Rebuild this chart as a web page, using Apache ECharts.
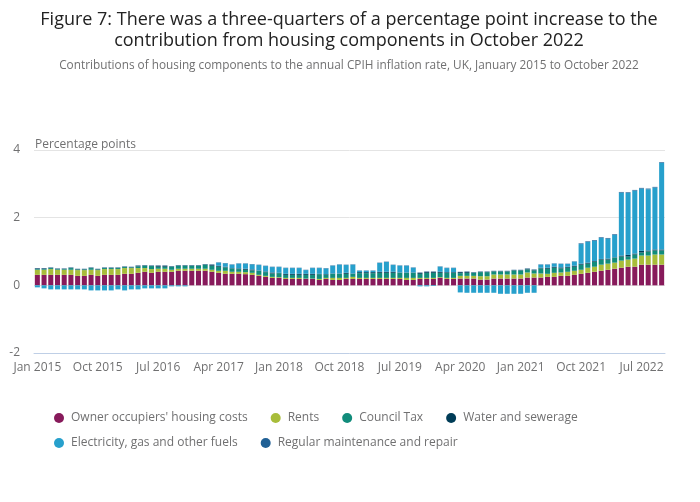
<!DOCTYPE html>
<html>
<head>
<meta charset="utf-8">
<script src="https://cdn.jsdelivr.net/npm/echarts@6/dist/echarts.min.js"></script>
<style>html,body{margin:0;padding:0;background:#fff}#c{width:700px;height:502px}</style>
</head>
<body>
<div id="c"></div>
<script>
const categories = [
'Jan 2015','Feb 2015','Mar 2015','Apr 2015','May 2015','Jun 2015','Jul 2015','Aug 2015','Sep 2015','Oct 2015','Nov 2015','Dec 2015',
'Jan 2016','Feb 2016','Mar 2016','Apr 2016','May 2016','Jun 2016','Jul 2016','Aug 2016','Sep 2016','Oct 2016','Nov 2016','Dec 2016',
'Jan 2017','Feb 2017','Mar 2017','Apr 2017','May 2017','Jun 2017','Jul 2017','Aug 2017','Sep 2017','Oct 2017','Nov 2017','Dec 2017',
'Jan 2018','Feb 2018','Mar 2018','Apr 2018','May 2018','Jun 2018','Jul 2018','Aug 2018','Sep 2018','Oct 2018','Nov 2018','Dec 2018',
'Jan 2019','Feb 2019','Mar 2019','Apr 2019','May 2019','Jun 2019','Jul 2019','Aug 2019','Sep 2019','Oct 2019','Nov 2019','Dec 2019',
'Jan 2020','Feb 2020','Mar 2020','Apr 2020','May 2020','Jun 2020','Jul 2020','Aug 2020','Sep 2020','Oct 2020','Nov 2020','Dec 2020',
'Jan 2021','Feb 2021','Mar 2021','Apr 2021','May 2021','Jun 2021','Jul 2021','Aug 2021','Sep 2021','Oct 2021','Nov 2021','Dec 2021',
'Jan 2022','Feb 2022','Mar 2022','Apr 2022','May 2022','Jun 2022','Jul 2022','Aug 2022','Sep 2022','Oct 2022'];

const ownerOccupiers = [
0.31,0.31,0.31,0.31,0.31,0.31,0.28,0.28,0.31,0.28,0.31,0.31,
0.31,0.34,0.34,0.37,0.40,0.37,0.40,0.40,0.40,0.43,0.43,0.43,
0.43,0.43,0.40,0.37,0.34,0.34,0.34,0.33,0.31,0.28,0.25,0.22,
0.22,0.19,0.19,0.19,0.19,0.19,0.16,0.19,0.16,0.16,0.19,0.19,
0.19,0.19,0.19,0.19,0.19,0.19,0.19,0.16,0.16,0.19,0.19,0.19,
0.22,0.19,0.19,0.20,0.20,0.20,0.17,0.17,0.20,0.20,0.20,0.20,
0.20,0.23,0.23,0.23,0.25,0.25,0.28,0.28,0.31,0.34,0.37,0.40,
0.43,0.46,0.49,0.52,0.55,0.55,0.61,0.61,0.61,0.61];

const rents = [
0.15,0.15,0.17,0.15,0.15,0.15,0.17,0.17,0.15,0.17,0.17,0.17,
0.17,0.17,0.17,0.14,0.11,0.11,0.09,0.09,0.06,0.06,0.06,0.06,
0.06,0.06,0.06,0.06,0.09,0.06,0.06,0.06,0.06,0.03,0.03,0.03,
0.02,0.03,0.03,0.03,0.01,0.01,0.03,0.03,0.06,0.06,0.03,0.06,
0.03,0.03,0.03,0.03,0.03,0.03,0.03,0.06,0.06,0.03,0.03,0.03,
0.02,0.03,0.03,0.08,0.08,0.08,0.10,0.10,0.12,0.12,0.12,0.12,
0.12,0.15,0.12,0.12,0.09,0.12,0.10,0.12,0.12,0.12,0.15,0.15,
0.18,0.18,0.18,0.21,0.21,0.24,0.27,0.27,0.30,0.30];

const councilTax = [
0.02,0.02,0.03,0.02,0.02,0.05,0.02,0.02,0.05,0.02,0.03,0.03,
0.03,0.03,0.02,0.05,0.07,0.09,0.06,0.06,0.09,0.09,0.09,0.09,
0.09,0.12,0.12,0.12,0.10,0.10,0.08,0.07,0.07,0.12,0.11,0.10,
0.12,0.09,0.09,0.09,0.11,0.11,0.14,0.09,0.12,0.12,0.12,0.09,
0.14,0.14,0.14,0.15,0.15,0.15,0.15,0.15,0.15,0.12,0.15,0.15,
0.13,0.15,0.15,0.08,0.09,0.09,0.12,0.12,0.09,0.09,0.09,0.12,
0.12,0.09,0.09,0.15,0.15,0.15,0.12,0.12,0.12,0.15,0.12,0.15,
0.15,0.12,0.15,0.12,0.09,0.12,0.09,0.12,0.12,0.12];

const waterSewerage = [
0.02,0.02,0.01,0.01,0.01,0.01,0.01,0.01,0.01,0.01,0.01,0.01,
0.01,0.01,0.01,0.02,0.01,0.01,0.03,0.03,0.01,0.01,0.01,0.01,
0.01,0.01,0.03,0.03,0.02,0.01,0.02,0.03,0.03,0.01,0.02,0.03,
0.01,0.03,0.03,0.03,0.03,0.03,0.01,0.02,0.01,0.01,0.03,0.01,
0.03,0.03,0.03,0.03,0.03,0.03,0.01,0.01,0.01,0.03,0.03,0.03,
0.03,0.02,0.02,0.03,0.03,0.01,0.01,0.01,0.01,0.01,0.01,0.01,
0.01,0.02,0.02,0.02,0.03,0.03,0.03,0.03,0.03,0.03,0.03,0.02,
0.02,0.03,0.01,0.03,0.05,0.03,0.05,0.03,0.03,0.03];

const electricityGas = [
-0.06,-0.09,-0.12,-0.12,-0.12,-0.12,-0.12,-0.12,-0.15,-0.15,-0.15,-0.15,
-0.12,-0.15,-0.12,-0.12,-0.09,-0.09,-0.09,-0.09,-0.03,-0.03,-0.03,0.00,
0.00,0.00,0.00,0.09,0.10,0.10,0.14,0.15,0.15,0.16,0.16,0.16,
0.17,0.17,0.17,0.17,0.11,0.17,0.17,0.17,0.23,0.26,0.23,0.26,
0.04,0.04,0.04,0.26,0.29,0.20,0.20,0.20,0.14,-0.03,-0.03,-0.02,
0.15,0.12,0.12,-0.21,-0.22,-0.22,-0.22,-0.22,-0.22,-0.25,-0.25,-0.25,
-0.25,-0.22,-0.22,0.09,0.09,0.09,0.10,0.08,0.12,0.58,0.61,0.60,
0.62,0.59,0.66,1.86,1.83,1.86,1.84,1.81,1.83,2.56];

const maintenance = [
0.01,0.01,0.01,0.01,0.01,0.01,0.01,0.01,0.01,0.01,0.01,0.01,
0.01,0.01,0.01,0.01,0.01,0.01,0.01,0.01,0.01,0.01,0.01,0.01,
0.01,0.01,0.01,0.01,0.01,0.01,0.01,0.01,0.01,0.01,0.01,0.01,
0.01,0.01,0.01,0.01,0.01,0.01,0.01,0.01,0.01,0.01,0.01,0.01,
0.01,0.01,0.01,0.01,0.01,0.01,0.01,0.01,0.01,0.01,0.01,0.01,
0.01,0.01,0.01,0.01,0.01,0.01,0.01,0.01,0.01,0.01,0.01,0.01,
0.01,0.01,0.01,0.01,0.01,0.01,0.01,0.01,0.01,0.02,0.02,0.02,
0.02,0.02,0.02,0.02,0.02,0.02,0.02,0.02,0.02,0.02];

const seriesNames = ["Owner occupiers' housing costs","Rents","Council Tax","Water and sewerage","Electricity, gas and other fuels","Regular maintenance and repair"];
const seriesData = [ownerOccupiers, rents, councilTax, waterSewerage, electricityGas, maintenance];
const colors = ['#871a5b','#a8bd3a','#118c7b','#003c57','#27a0cc','#206095'];

const FONT = 'Open Sans';
const legendBase = {icon: 'circle', itemWidth: 14, itemHeight: 10, itemGap: 23, symbolKeepAspect: true,
  textStyle:{fontFamily: FONT, fontSize: 12, color:'#707071'}};
const chart = echarts.init(document.getElementById('c'), null, {renderer:'canvas'});
chart.setOption({
  animation: false,
  color: colors,
  textStyle: {fontFamily: FONT},
  title: [
    {text: 'Figure 7: There was a three-quarters of a percentage point increase to the\ncontribution from housing components in October 2022',
     left: 344, top: 4, textAlign: 'center',
     textStyle: {fontFamily: FONT, fontSize: 18, fontWeight: 'normal', color: '#222222', lineHeight: 21}},
    {text: 'Contributions of housing components to the annual CPIH inflation rate, UK, January 2015 to October 2022',
     left: 344, top: 55, textAlign: 'center',
     textStyle: {fontFamily: FONT, fontSize: 11.8, fontWeight: 'normal', color: '#707071'}}
  ],
  graphic: [{type:'text', left: 35, top: 139, style:{text:'Percentage points', fontFamily: FONT, fontSize: 12, fill:'#707071'}}],
  legend: [
    Object.assign({data: seriesNames.slice(0,4), left: 49, top: 407}, legendBase),
    Object.assign({data: seriesNames.slice(4), left: 49, top: 432}, legendBase)
  ],
  grid: {left: 34, right: 35, top: 150, bottom: 149, containLabel: false},
  xAxis: {
    type: 'category', data: categories,
    axisLine: {onZero: false, lineStyle: {color: '#bfcfe6', width: 1}},
    axisTick: {alignWithLabel: true, interval: 8, length: 8, lineStyle:{color:'#bfcfe6'}},
    axisLabel: {interval: 8, color: '#707071', fontSize: 12, fontFamily: FONT, margin: 9}
  },
  yAxis: {
    type: 'value', min: -2, max: 4, interval: 2,
    axisLine: {show: false}, axisTick: {show: false},
    axisLabel: {color: '#707071', fontSize: 12, fontFamily: FONT, margin: 14, padding: [2,0,0,0]},
    splitLine: {lineStyle: {color: '#e4e4e4'}}
  },
  series: seriesNames.map((n, i) => ({
    name: n, type: 'bar', stack: 'total', data: seriesData[i], barWidth: '75%',
    itemStyle: {color: colors[i]}
  }))
});
</script>
</body>
</html>
